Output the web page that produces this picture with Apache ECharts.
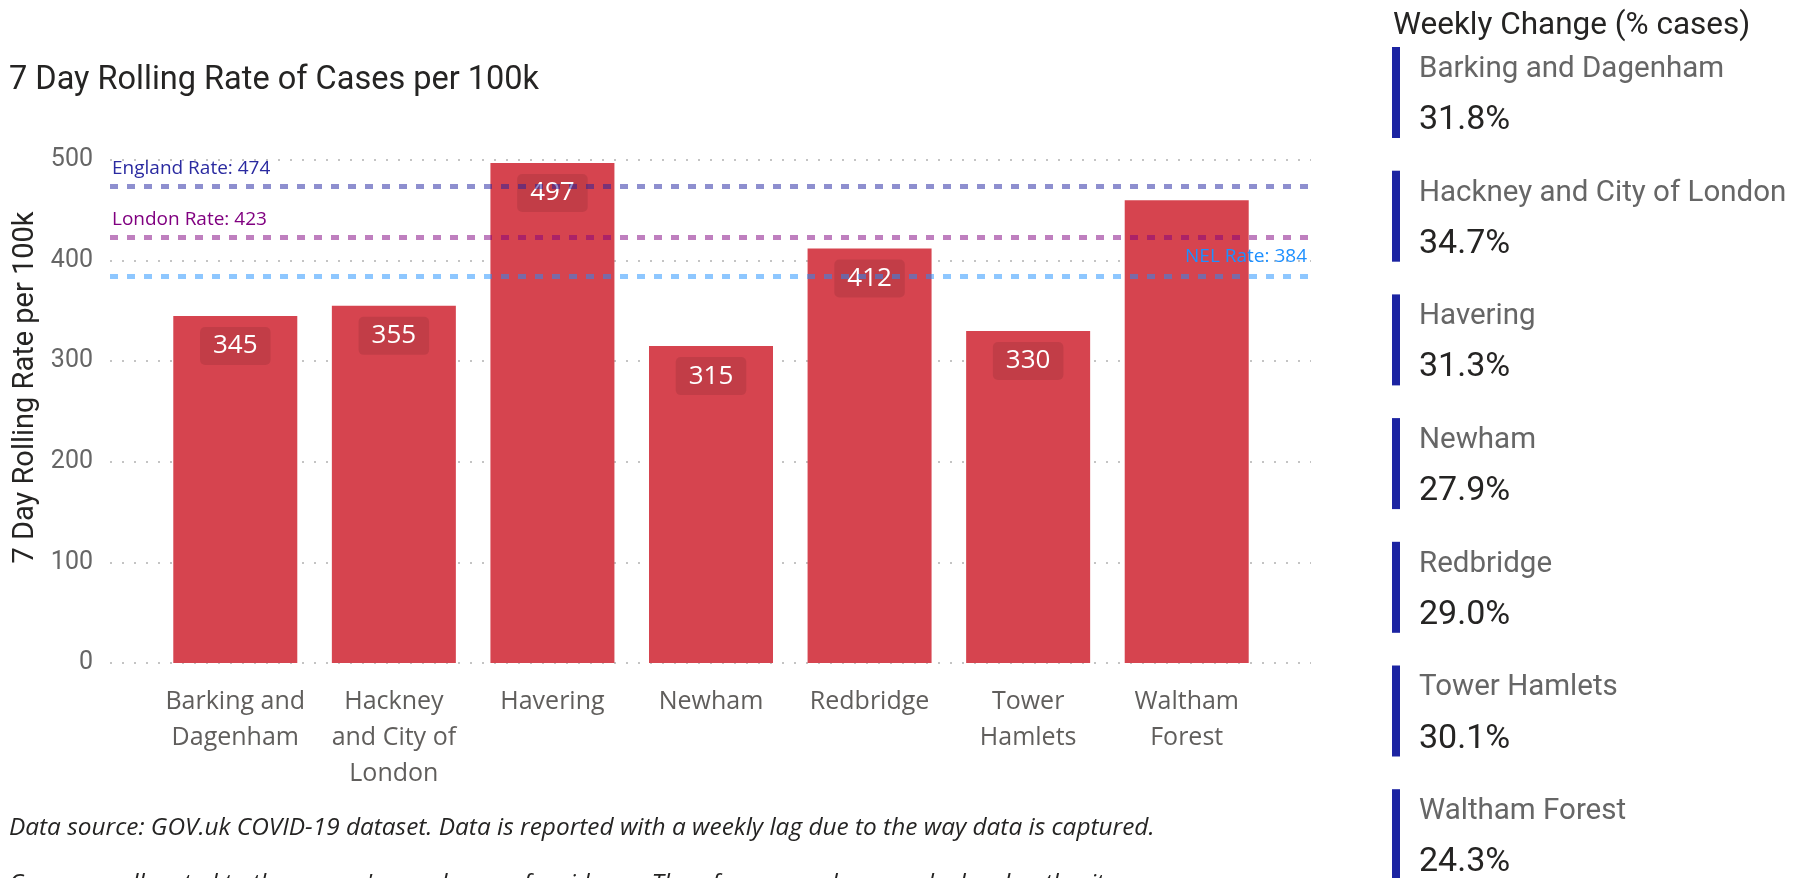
<!DOCTYPE html>
<html>
<head>
<meta charset="utf-8">
<script src="https://cdn.jsdelivr.net/npm/echarts@6/dist/echarts.min.js"></script>
<style>
  html, body { margin: 0; padding: 0; background: #fff; }
  #chart { width: 1803px; height: 878px; }
</style>
</head>
<body>
<div id="chart"></div>
<script>
const categories = [
    "Barking and Dagenham",
    "Hackney and City of London",
    "Havering",
    "Newham",
    "Redbridge",
    "Tower Hamlets",
    "Waltham Forest",
];
const tickLabels = [
    "Barking and\nDagenham",
    "Hackney\nand City of\nLondon",
    "Havering",
    "Newham",
    "Redbridge",
    "Tower\nHamlets",
    "Waltham\nForest",
];
const rates = [345, 355, 497, 315, 412, 330, 460];
const hiddenLabels = ["Waltham Forest"];

const refNames = ["England Rate", "London Rate", "NEL Rate"];
const refValues = [474, 423, 384];
const refColors = ["rgba(30, 32, 160, 0.5)", "rgba(128, 0, 128, 0.5)", "rgba(30, 144, 255, 0.5)"];
const refTextColors = ["#2A2AA0", "#800080", "#1E90FF"];

const weeklyChange = [31.8, 34.7, 31.3, 27.9, 29.0, 30.1, 24.3];

const barColor = "#D6444F";
const dinFont = "Roboto";
const uiFont = "'Open Sans'";

const chart = echarts.init(document.getElementById("chart"));

// right-hand cards
const cards = [];
categories.forEach((name, i) => {
    const top = 47 + 123.7 * i;
    cards.push(
        {
            type: "rect",
            shape: { x: 1392, y: top, width: 8, height: 91 },
            style: { fill: "#1C24A2" },
        },
        {
            type: "text",
            x: 1419,
            y: top + 22.5,
            style: {
                text: name,
                fill: "#666666",
                font: "29.5px " + dinFont,
                verticalAlign: "middle",
            },
        },
        {
            type: "text",
            x: 1419,
            y: top + 73.5,
            style: {
                text: weeklyChange[i].toFixed(1) + "%",
                fill: "#252423",
                font: "34px " + dinFont,
                verticalAlign: "middle",
            },
        }
    );
});

const option = {
    animation: false,
    title: {
        text: "7 Day Rolling Rate of Cases per 100k",
        left: 9,
        top: 64,
        padding: 0,
        textStyle: {
            fontFamily: dinFont,
            fontSize: 32.5,
            fontWeight: "normal",
            color: "#252423",
        },
    },
    grid: [
        { left: 110, right: 492, top: 160, bottom: 215 },
        { left: 156, right: 537, top: 160, bottom: 215 },
    ],
    xAxis: [
        { type: "value", gridIndex: 0, min: 0, max: 1, show: false },
        {
            type: "category",
            gridIndex: 1,
            data: categories,
            axisLine: { show: false },
            axisTick: { show: false },
            axisLabel: {
                margin: 21,
                fontFamily: uiFont,
                fontSize: 25,
                lineHeight: 36,
                color: "#605E5C",
                interval: 0,
                formatter: (value, index) => tickLabels[index],
            },
        },
    ],
    yAxis: [
        {
            type: "value",
            gridIndex: 0,
            min: 0,
            max: 500,
            interval: 100,
            name: "7 Day Rolling Rate per 100k",
            nameLocation: "middle",
            nameGap: 66,
            nameTextStyle: {
                fontFamily: dinFont,
                fontSize: 29,
                color: "#252423",
                padding: [0, 0, 0, 48],
            },
            axisLine: { show: false },
            axisTick: { show: false },
            axisLabel: {
                margin: 17,
                fontFamily: dinFont,
                fontSize: 25,
                color: "#666666",
            },
            splitLine: {
                lineStyle: { color: "#c4c4c4", width: 2, type: [2, 10] },
            },
        },
        {
            type: "value",
            gridIndex: 1,
            min: 0,
            max: 500,
            interval: 100,
            show: false,
        },
    ],
    series: [
        {
            type: "bar",
            xAxisIndex: 1,
            yAxisIndex: 1,
            barWidth: 124,
            itemStyle: { color: barColor },
            label: {
                show: true,
                position: "insideTop",
                distance: 11,
                color: "#ffffff",
                fontFamily: uiFont,
                fontSize: 26,
                lineHeight: 26,
                backgroundColor: "rgba(0, 0, 0, 0.09)",
                borderRadius: 5,
                padding: [6, 13],
            },
            data: rates.map((v, i) =>
                hiddenLabels.includes(categories[i])
                    ? { value: v, label: { show: false } }
                    : v
            ),
        },
        {
            type: "line",
            xAxisIndex: 0,
            yAxisIndex: 0,
            data: [],
            markLine: {
                silent: true,
                symbol: "none",
                z: 5,
                data: refNames.map((name, i) => ({
                    yAxis: refValues[i],
                    lineStyle: { color: refColors[i], width: 5, type: [8, 9] },
                    label: {
                        show: true,
                        position: i === 2 ? "insideEndTop" : "insideStartTop",
                        distance: i === 2 ? [4, 11] : [2, 8],
                        formatter: name + ": " + refValues[i],
                        color: refTextColors[i],
                        fontFamily: uiFont,
                        fontSize: 19,
                    },
                })),
            },
        },
    ],
    graphic: [
        {
            type: "text",
            x: 1393,
            y: 26,
            style: {
                text: "Weekly Change (% cases)",
                fill: "#252423",
                font: "31.5px " + dinFont,
                verticalAlign: "middle",
            },
        },
        ...cards,
        {
            type: "text",
            x: 9,
            y: 828,
            style: {
                text: "Data source: GOV.uk COVID-19 dataset. Data is reported with a weekly lag due to the way data is captured.",
                fill: "#252423",
                font: "italic 24.4px " + uiFont,
                verticalAlign: "middle",
            },
        },
        {
            type: "text",
            x: 9,
            y: 884,
            style: {
                text: "Cases are allocated to the person's usual area of residence. Therefore, cases here are by local authority.",
                fill: "#252423",
                font: "italic 24.4px " + uiFont,
                verticalAlign: "middle",
            },
        },
    ],
};

chart.setOption(option);
</script>
</body>
</html>
